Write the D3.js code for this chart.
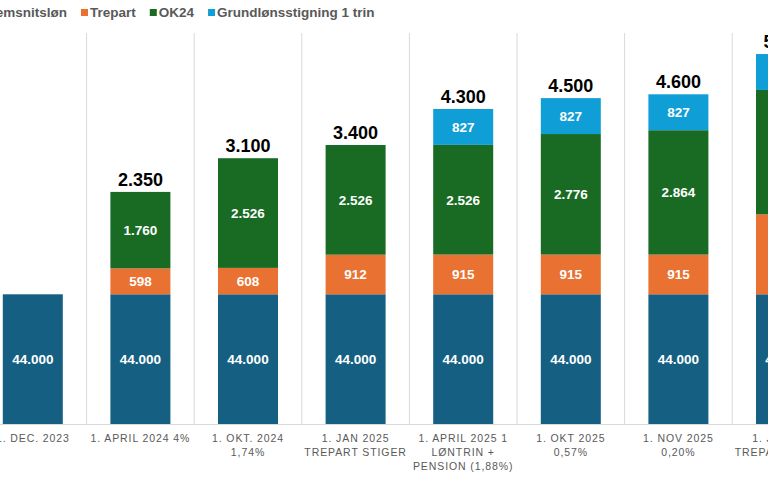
<!DOCTYPE html>
<html><head><meta charset="utf-8">
<script src="https://cdn.jsdelivr.net/npm/d3@7"></script>
<style>
html,body{margin:0;padding:0;background:#fff;overflow:hidden;}
svg{display:block;}
</style></head>
<body>
<svg id="chart" width="768" height="480"></svg>
<script>
// ---- data ----
const categories = [
  ["1. DEC. 2023"],
  ["1. APRIL 2024 4%"],
  ["1. OKT. 2024", "1,74%"],
  ["1. JAN 2025", "TREPART STIGER"],
  ["1. APRIL 2025 1", "LØNTRIN +", "PENSION (1,88%)"],
  ["1. OKT 2025", "0,57%"],
  ["1. NOV 2025", "0,20%"],
  ["1. JAN 2026", "TREPART STIGER"]
];
const seriesNames = ["Gennemsnitsløn", "Trepart", "OK24", "Grundlønsstigning 1 trin"];
const gennemsnitsloen = [44000, 44000, 44000, 44000, 44000, 44000, 44000, 44000];
const trepart        = [0, 598, 608, 912, 915, 915, 915, 1842];
const ok24           = [0, 1760, 2526, 2526, 2526, 2776, 2864, 2864];
const grundloen      = [0, 0, 0, 0, 827, 827, 827, 827];
const totals         = [null, 2350, 3100, 3400, 4300, 4500, 4600, 5500];
const colors = ["#156082", "#E97132", "#196B24", "#0F9ED5"];

// ---- build table ----
const keys = ["g", "t", "o", "b"];
const rows = categories.map((c, i) => ({
  idx: i, g: gennemsnitsloen[i], t: trepart[i], o: ok24[i], b: grundloen[i]
}));
const stacked = d3.stack().keys(keys)(rows);

const loc = d3.formatLocale({decimal: ",", thousands: ".", grouping: [3], currency: ["", " kr"]});
const fmt = loc.format(",d");

const svg = d3.select("#chart");
const baseY = 424;

// band scale: step ~107.6, bar width 60
const step = 107.6, bw = 60;
const r0 = 2.8 - (step - bw) / 2;
const x = d3.scaleBand()
  .domain(d3.range(categories.length))
  .range([r0, r0 + step * categories.length])
  .paddingInner((step - bw) / step)
  .paddingOuter((step - bw) / step / 2);

// broken (polylinear) y scale: base salary compressed, increments magnified
const pxPerUnit = 1 / 23.03;
const y = d3.scaleLinear()
  .domain([0, 44000, 50000])
  .range([baseY, 294.3, 294.3 - 6000 * pxPerUnit]);

// vertical separators
svg.append("g").selectAll("line")
  .data(d3.range(1, categories.length))
  .join("line")
  .attr("x1", i => r0 + i * x.step()).attr("x2", i => r0 + i * x.step())
  .attr("y1", 33).attr("y2", baseY)
  .attr("stroke", "#D9D9D9").attr("stroke-width", 1);

// baseline
svg.append("line")
  .attr("x1", 0).attr("x2", 768).attr("y1", baseY + 0.5).attr("y2", baseY + 0.5)
  .attr("stroke", "#D9D9D9").attr("stroke-width", 1);

// bars
const layers = svg.append("g").selectAll("g")
  .data(stacked).join("g")
  .attr("fill", (d, i) => colors[i]);
layers.selectAll("rect")
  .data(d => d.filter(s => s[1] - s[0] > 0))
  .join("rect")
  .attr("x", d => x(d.data.idx))
  .attr("width", x.bandwidth())
  .attr("y", d => y(d[1]))
  .attr("height", d => y(d[0]) - y(d[1]));

// inner labels
const lab = svg.append("g")
  .attr("font-family", "'Liberation Sans', Arial, sans-serif")
  .attr("font-weight", "bold").attr("font-size", "13.5px")
  .attr("fill", "#fff").attr("text-anchor", "middle");
stacked.forEach(layer => {
  lab.selectAll(null)
    .data(layer.filter(s => s[1] - s[0] > 0))
    .join("text")
    .attr("x", d => x(d.data.idx) + x.bandwidth() / 2)
    .attr("y", d => (y(d[0]) + y(d[1])) / 2)
    .attr("dy", "0.36em")
    .text(d => fmt(d[1] - d[0]));
});

// total labels
svg.append("g")
  .attr("font-family", "'Liberation Sans', Arial, sans-serif")
  .attr("font-weight", "bold").attr("font-size", "18px")
  .attr("fill", "#000").attr("text-anchor", "middle")
  .selectAll("text")
  .data(rows.filter(r => totals[r.idx] != null))
  .join("text")
  .attr("x", r => x(r.idx) + x.bandwidth() / 2)
  .attr("y", r => y(r.g + r.t + r.o + r.b) - 6)
  .text(r => fmt(totals[r.idx]));

// category labels
const cat = svg.append("g")
  .attr("font-family", "'Liberation Sans', Arial, sans-serif")
  .attr("font-size", "10.5px").attr("fill", "#595959")
  .attr("letter-spacing", "0.9px").attr("text-anchor", "middle");
categories.forEach((lines, i) => {
  const t = cat.append("text")
    .attr("x", x(i) + x.bandwidth() / 2)
    .attr("y", 442.3);
  lines.forEach((ln, j) => {
    t.append("tspan").attr("x", x(i) + x.bandwidth() / 2)
      .attr("y", 442.3 + j * 14).text(ln);
  });
});

// legend
const leg = svg.append("g")
  .attr("font-family", "'Liberation Sans', Arial, sans-serif")
  .attr("font-weight", "bold").attr("font-size", "13.5px").attr("fill", "#595959");
let cx = 0;
const items = seriesNames.map((name, i) => {
  const g = leg.append("g");
  g.append("rect").attr("x", 0).attr("y", 9).attr("width", 7).attr("height", 7).attr("fill", colors[i]);
  const t = g.append("text").attr("x", 9).attr("y", 17).text(name);
  const w = t.node().getComputedTextLength();
  g.attr("transform", `translate(${cx},0)`);
  const pos = cx;
  cx += 9 + w + 14;
  return pos;
});
leg.attr("transform", `translate(${81 - items[1]},0)`);
</script>
</body></html>
